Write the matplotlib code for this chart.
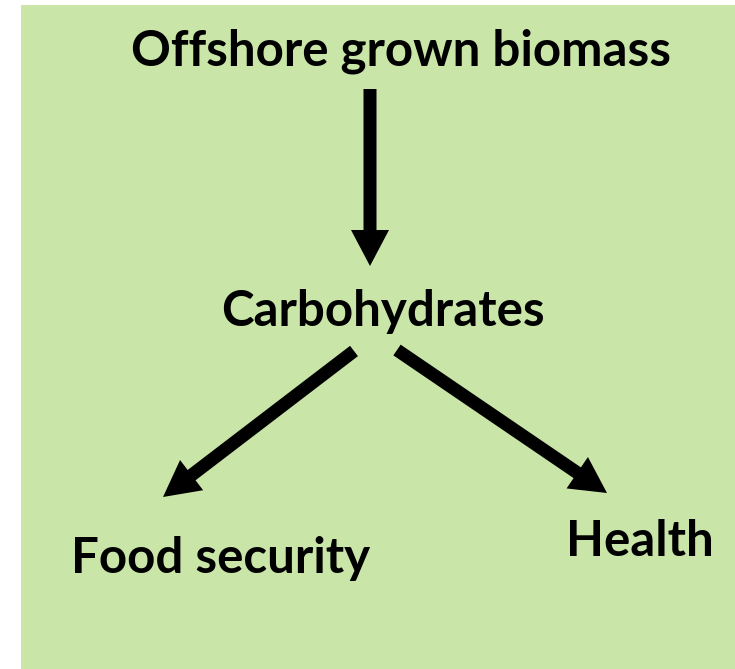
import matplotlib
matplotlib.use("Agg")
import matplotlib.pyplot as plt
from matplotlib.patches import Rectangle, FancyArrow

# labels of the diagram and where they sit (pixel coords, y down)
labels = ["Offshore grown biomass", "Carbohydrates", "Food security", "Health"]
label_x = [401, 383, 221, 640]
label_y = [65, 326, 573, 556]

# arrows: tail (x, y) -> tip (x, y)
arrow_tails = [(370, 89), (354, 351), (397, 350)]
arrow_tips = [(370, 266), (163, 497), (607, 493)]

bg_color = "#c9e5a8"

fig = plt.figure(figsize=(7.35, 6.69), dpi=100)
ax = fig.add_axes([0, 0, 1, 1])
ax.set_xlim(0, 735)
ax.set_ylim(669, 0)
ax.axis("off")

ax.add_patch(Rectangle((21, 5), 735 - 21, 669 - 5, facecolor=bg_color, edgecolor="none"))

for (x0, y0), (x1, y1) in zip(arrow_tails, arrow_tips):
    ax.add_patch(FancyArrow(x0, y0, x1 - x0, y1 - y0, width=13, head_width=38,
                            head_length=36, length_includes_head=True,
                            facecolor="black", edgecolor="none"))

for txt, x, y in zip(labels, label_x, label_y):
    ax.text(x, y, txt, ha="center", va="baseline", fontsize=35.5,
            fontweight="bold", family="Lato", color="black")

fig.savefig("out.png", dpi=100)
